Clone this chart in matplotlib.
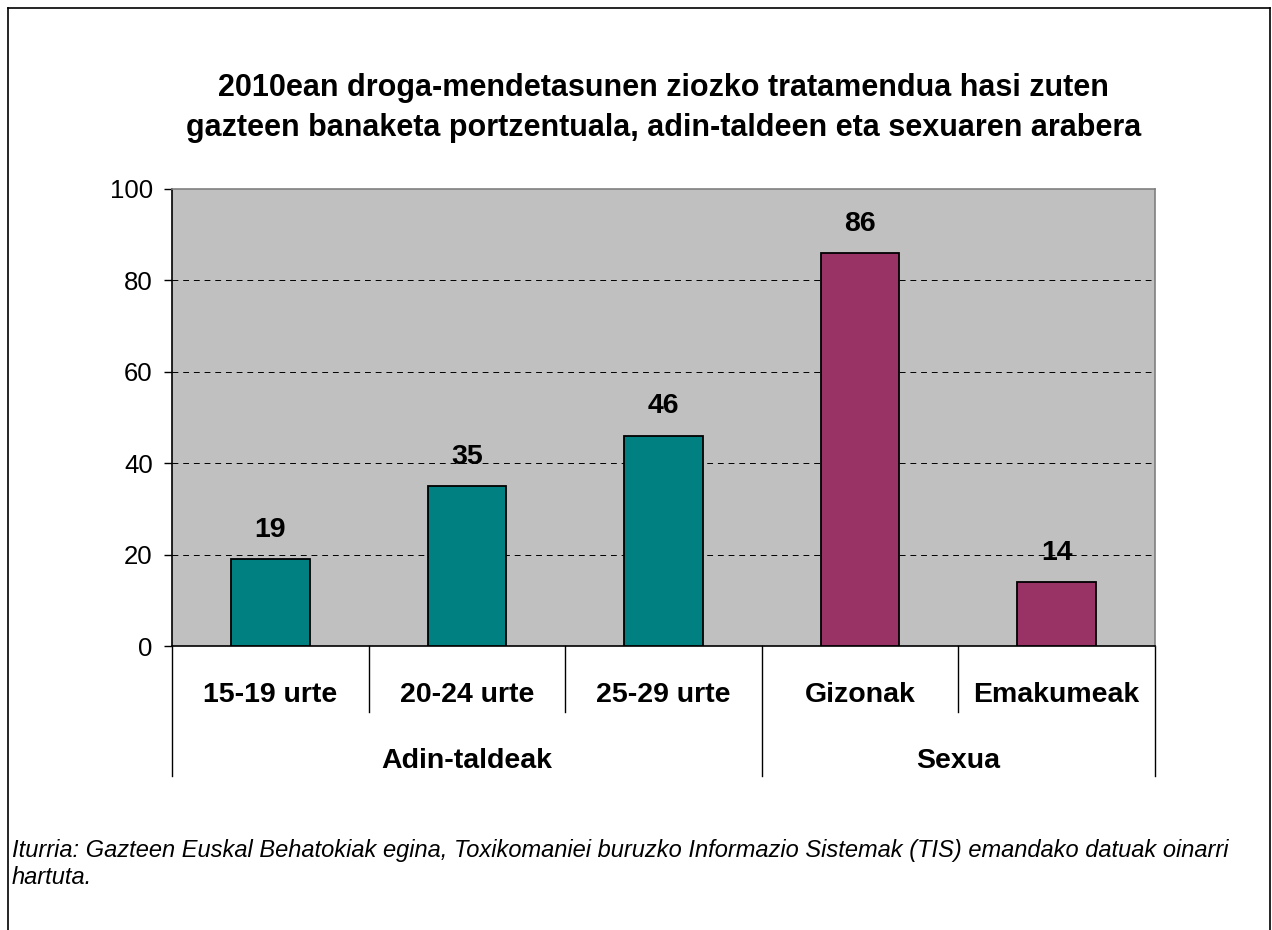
import numpy as np
import matplotlib.pyplot as plt
from matplotlib.lines import Line2D

plt.rcParams['font.family'] = ['Liberation Sans', 'DejaVu Sans']

# data
categories = ['15-19 urte', '20-24 urte', '25-29 urte', 'Gizonak', 'Emakumeak']
values = [19, 35, 46, 86, 14]
groups = ['Adin-taldeak', 'Sexua']
group_sizes = [3, 2]
colors = ['#008080', '#008080', '#008080', '#993366', '#993366']

title = ("2010ean droga-mendetasunen ziozko tratamendua hasi zuten\n"
         "gazteen banaketa portzentuala, adin-taldeen eta sexuaren arabera")
source = ("Iturria: Gazteen Euskal Behatokiak egina, Toxikomaniei buruzko Informazio Sistemak (TIS) emandako datuak oinarri\n"
          "hartuta.")

W, H = 1272, 930
fig = plt.figure(figsize=(W / 100, H / 100), dpi=100)
ax = fig.add_axes([172 / W, 1 - 646 / H, (1155 - 172) / W, (646 - 189) / H])
ax.set_facecolor('#C0C0C0')

x = np.arange(len(categories))
ax.bar(x, values, width=0.4, color=colors, edgecolor='black', linewidth=1.3, zorder=3)
for xi, v in zip(x, values):
    ax.text(xi, v + 3.6, str(v), ha='center', va='bottom', fontsize=20.5, fontweight='bold')

ax.set_xlim(-0.5, len(categories) - 0.5)
ax.set_ylim(0, 100)
ax.set_yticks(np.arange(0, 101, 20))
ax.tick_params(axis='y', labelsize=18.5, length=5.8, width=1, direction='out', pad=8)
ax.set_xticks([])
for yv in range(20, 100, 20):
    ax.axhline(yv, color='black', linestyle=(0, (6, 5)), linewidth=0.7, zorder=1)

for s in ['top', 'right']:
    ax.spines[s].set_color('#808080')
    ax.spines[s].set_linewidth(1.2)
for s in ['left', 'bottom']:
    ax.spines[s].set_color('black')
    ax.spines[s].set_linewidth(1.2)

# multi-level category axis
trans = ax.get_xaxis_transform()
short_y = -66 / 457
long_y = -130 / 457
bounds = np.cumsum([0] + group_sizes)
for i in range(len(categories) + 1):
    xb = i - 0.5
    yb = long_y if i in bounds else short_y
    ax.add_line(Line2D([xb, xb], [0, yb], transform=trans, color='black',
                       linewidth=1, clip_on=False))
for xi, c in zip(x, categories):
    ax.text(xi, -48.5 / 457, c, transform=trans, ha='center', va='center',
            fontsize=20.5, fontweight='bold')
for g, a, b in zip(groups, bounds[:-1], bounds[1:]):
    ax.text((a + b - 1) / 2, -114.5 / 457, g, transform=trans, ha='center',
            va='center', fontsize=20.5, fontweight='bold')

fig.text(0.5 * (172 + 1155) / W, 1 - 108 / H, title, ha='center', va='center',
         fontsize=22, fontweight='bold', linespacing=1.45)
fig.text(12 / W, 1 - 864 / H, source, ha='left', va='center', fontsize=17,
         style='italic', linespacing=1.25)

# outer frame
for xs, ys in [([8, 8], [8, 940]), ([1270, 1270], [8, 940]), ([8, 1270], [8, 8])]:
    fig.add_artist(Line2D([v / W for v in xs], [1 - v / H for v in ys],
                          transform=fig.transFigure, color='black', linewidth=1.2))

fig.savefig('out.png', dpi=100)
